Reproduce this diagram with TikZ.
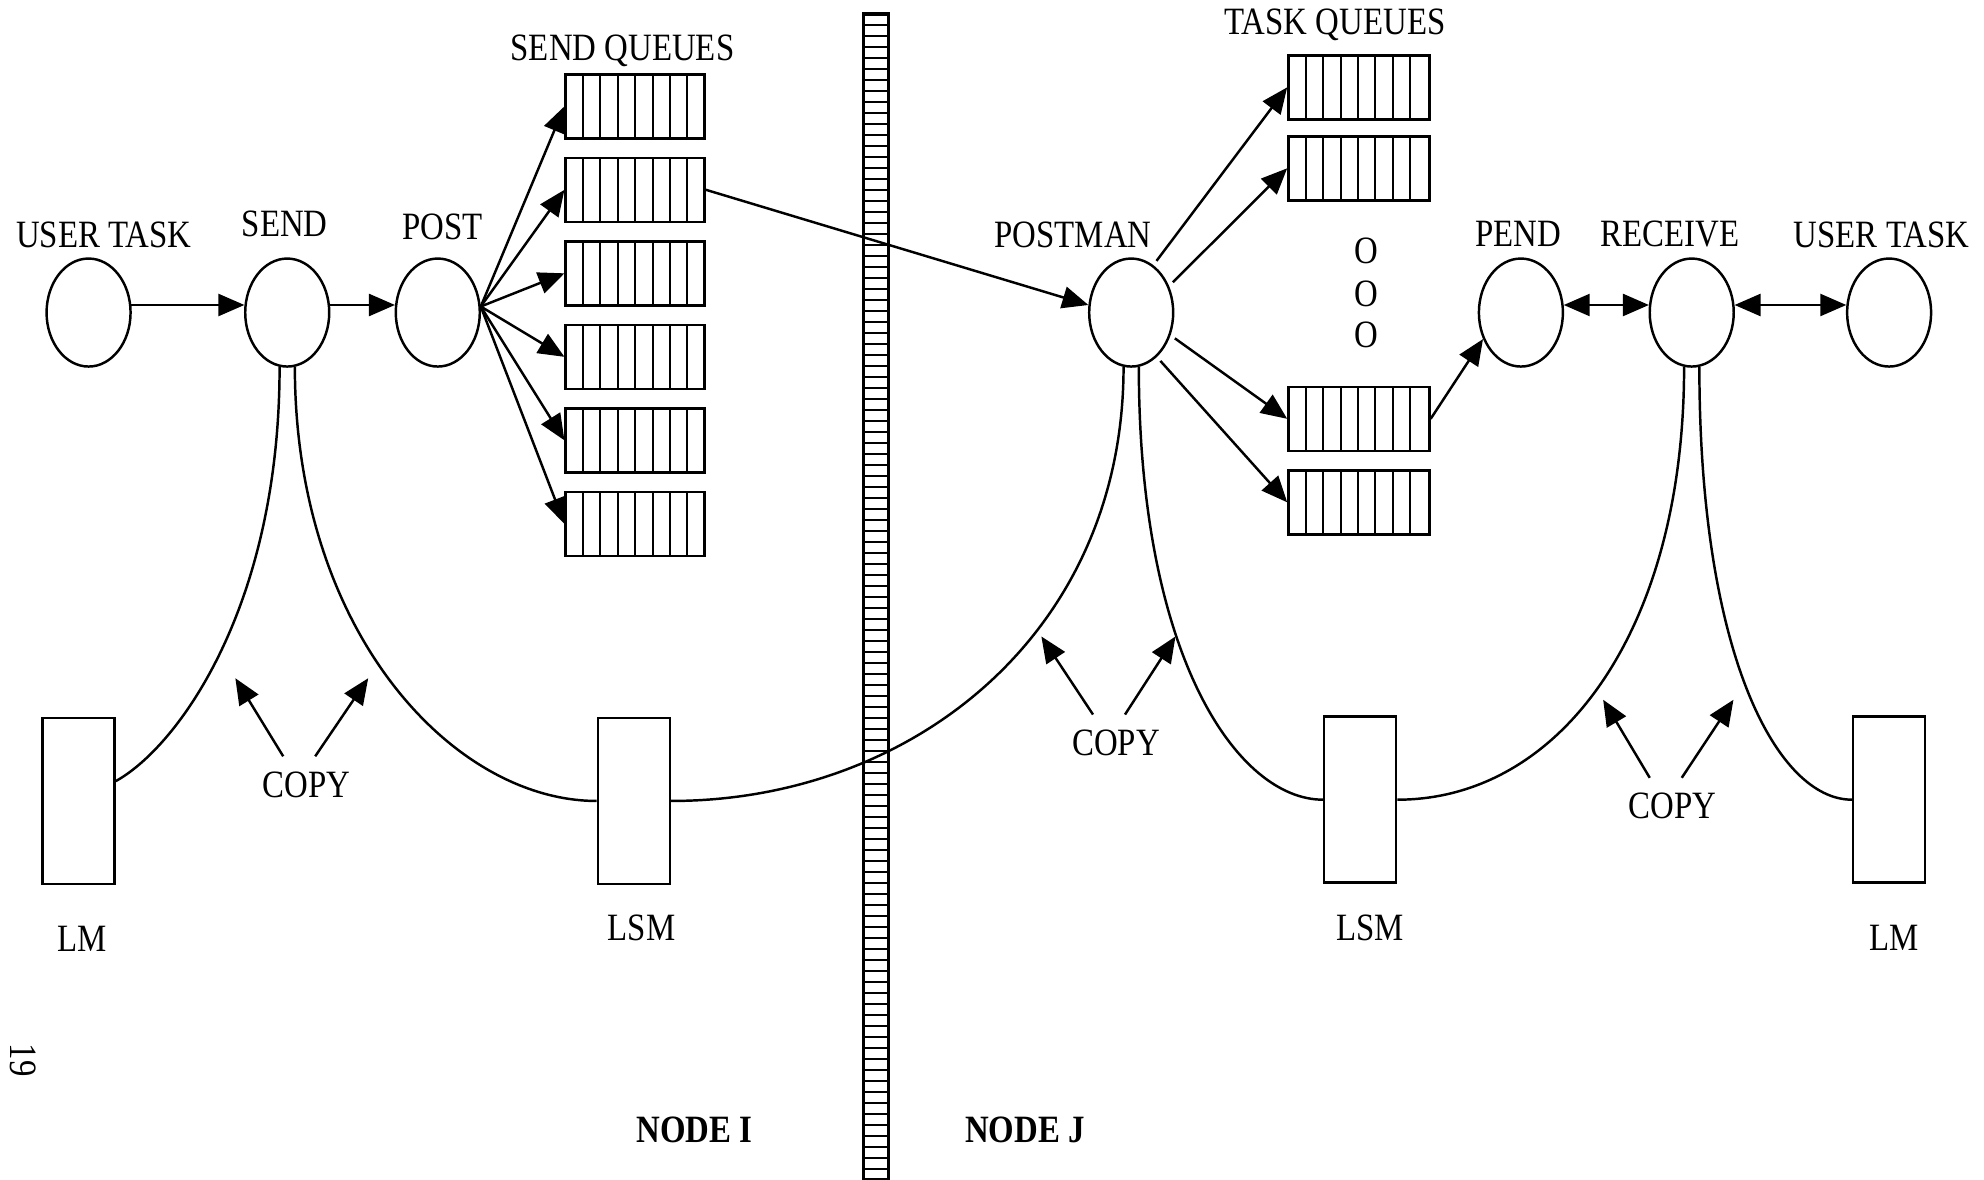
\documentclass[tikz,border=0pt]{standalone}
\usepackage{fontspec}
\setmainfont{Liberation Serif}[FakeStretch=0.85]
\usepackage{tikz}
\usetikzlibrary{shapes.geometric,arrows.meta,positioning,calc}
\newcommand{\lblfont}{\fontsize{11}{13}\selectfont}
\tikzset{
    proc/.style={ellipse, draw, line width=0.7pt, minimum width=8.4mm, minimum height=10.8mm, inner sep=0pt},
    queue/.style={rectangle, draw, line width=0.7pt, minimum width=13.9mm, minimum height=6.4mm, inner sep=0pt,
        path picture={\foreach \k in {1,...,7}{\draw[line width=0.6pt] ([xshift=\k*1.7375mm]path picture bounding box.south west) -- ([xshift=\k*1.7375mm]path picture bounding box.north west);}}},
    mem/.style={rectangle, draw, line width=0.7pt, minimum width=7.2mm, minimum height=16.6mm, inner sep=0pt},
    wall/.style={rectangle, draw, line width=0.9pt, minimum width=2.5mm, minimum height=116.5mm, inner sep=0pt,
        path picture={\foreach \k in {1,...,105}{\draw[line width=0.45pt] ([yshift=-\k*1.1mm]path picture bounding box.north west) -- ([yshift=-\k*1.1mm]path picture bounding box.north east);}}},
    lbl/.style={font=\lblfont, inner sep=1pt},
    nodelbl/.style={font=\lblfont\bfseries, inner sep=1pt},
    arr/.style={line width=0.7pt, -{Triangle[length=2.6mm,width=2.2mm]}},
    darr/.style={line width=0.7pt, {Triangle[length=2.6mm,width=2.2mm]}-{Triangle[length=2.6mm,width=2.2mm]}},
    link/.style={line width=0.7pt},
}
\begin{document}
\begin{tikzpicture}[x=0.12653mm, y=-0.12653mm]
    \useasboundingbox (0,0) rectangle (1568,932);

    % Barrier between the two nodes
    \node[wall] (wall) at (692,471.5) {};

    % Node I: tasks
    \node[proc] (utL) at (70,247) {};
    \node[proc] (send) at (227,247) {};
    \node[proc] (post) at (346,247) {};
    \node[lbl] (utLlbl) at (82,186) {USER TASK};
    \node[lbl] (sendlbl) at (225,177) {SEND};
    \node[lbl] (postlbl) at (350,179) {POST};

    % Send queues
    \node[lbl] (sqlbl) at (492,40) {SEND QUEUES};
    \foreach \i/\yy in {1/84,2/150,3/216,4/282,5/348,6/414}
        \node[queue] (sq\i) at (502,\yy) {};

    \draw[arr] (utL.10) -- (send.170);
    \draw[arr] (send.10) -- (post.170);
    \foreach \i in {1,...,6}
        \draw[arr] (post.8) -- (sq\i.west);

    % Node J: tasks
    \node[proc] (postman) at (894,247) {};
    \node[proc] (pend) at (1202,247) {};
    \node[proc] (recv) at (1337,247) {};
    \node[proc] (utR) at (1493,247) {};
    \node[lbl] (postmanlbl) at (848,186) {POSTMAN};
    \node[lbl] (pendlbl) at (1200,185) {PEND};
    \node[lbl] (recvlbl) at (1320,185) {RECEIVE};
    \node[lbl] (utRlbl) at (1487,186) {USER TASK};

    % Task queues
    \node[lbl] (tqlbl) at (1055,20) {TASK QUEUES};
    \foreach \i/\yy in {1/69,2/133,3/331,4/397}
        \node[queue, minimum width=14.1mm] (tq\i) at (1074,\yy) {};
    \foreach \i/\yy in {1/198,2/232,3/265}
        \node[lbl] (dot\i) at (1080,\yy) {O};

    \draw[arr] (sq2.east) -- (postman.170);
    \draw[arr, shorten <=1.5pt] (postman.65) -- (tq1.west);
    \draw[arr, shorten <=1.5pt] (postman.35) -- (tq2.west);
    \draw[arr, shorten <=1.5pt] (postman.-30) -- (tq3.west);
    \draw[arr, shorten <=1.5pt] (postman.-60) -- (tq4.west);
    \draw[arr] (tq3.east) -- (pend.215);
    \draw[darr] (pend.10) -- (recv.170);
    \draw[darr] (recv.10) -- (utR.170);

    % Memories
    \node[mem] (lmL) at (62,633) {};
    \node[mem] (lsmL) at (501,633) {};
    \node[mem] (lsmR) at (1075,632) {};
    \node[mem] (lmR) at (1493,632) {};
    \node[lbl] (lmLlbl) at (65,742) {LM};
    \node[lbl] (lsmLlbl) at (507,733) {LSM};
    \node[lbl] (lsmRlbl) at (1083,733) {LSM};
    \node[lbl] (lmRlbl) at (1497,741) {LM};

    % Copy paths
    \draw[link] (send.262) .. controls +(0,190) and +(49,-27) .. (lmL.28);
    \draw[link] (send.278) .. controls +(0,210) and +(-113,0) .. (lsmL.west);
    \draw[link] (lsmL.east) .. controls +(190,0) and +(0,211) .. (postman.262);
    \draw[link] (postman.278) .. controls +(0,230) and +(-67,0) .. (lsmR.west);
    \draw[link] (lsmR.east) .. controls +(127,0) and +(0,211) .. (recv.262);
    \draw[link] (recv.278) .. controls +(0,230) and +(-58,0) .. (lmR.west);

    \node[lbl] (cpL) at (242,620) {COPY};
    \node[lbl] (cpM) at (882,587) {COPY};
    \node[lbl] (cpR) at (1322,637) {COPY};
    \coordinate (tipL1) at (186,536);
    \coordinate (tipL2) at (291,536);
    \coordinate (tipM1) at (823,503);
    \coordinate (tipM2) at (929,503);
    \coordinate (tipR1) at (1267,553);
    \coordinate (tipR2) at (1370,553);
    \foreach \c in {L,M,R}{
        \draw[arr] ([xshift=-2.3mm,yshift=1.1mm]cp\c.north) -- (tip\c1);
        \draw[arr] ([xshift=0.9mm,yshift=1.1mm]cp\c.north) -- (tip\c2);
    }

    % Node names
    \node[nodelbl] (nodeI) at (549,893) {NODE I};
    \node[nodelbl] (nodeJ) at (810,893) {NODE J};
    \node[lbl, rotate=-90] (pgnum) at (18,838) {19};
\end{tikzpicture}
\end{document}
